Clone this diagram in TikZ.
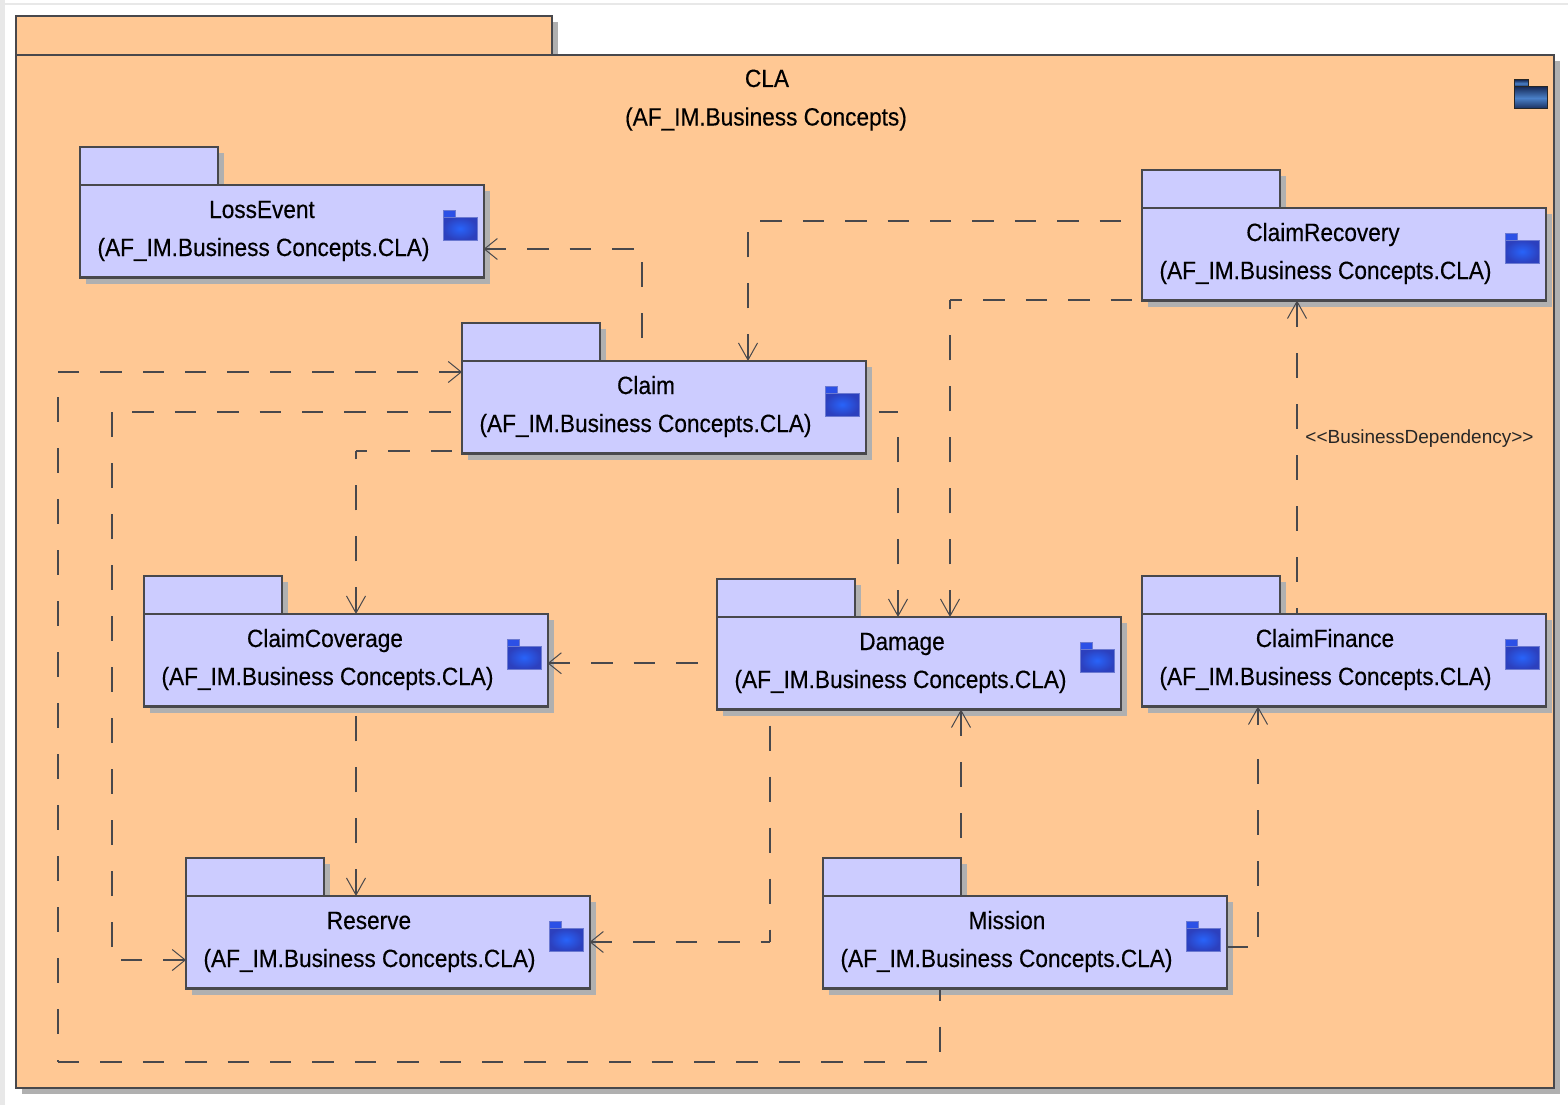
\documentclass[tikz,border=0pt]{standalone}
\usepackage{fontspec}
\setmainfont{Liberation Sans}[FakeStretch=0.905,FakeBold=0.35]
\newfontfamily\stereofont{Liberation Sans}[FakeStretch=1.0]
\usetikzlibrary{arrows.meta,shadows,calc}
\definecolor{claorange}{RGB}{255,200,148}
\definecolor{pkgblue}{RGB}{204,204,255}
\definecolor{edgegray}{RGB}{72,72,76}
\definecolor{shadegray}{RGB}{176,176,176}
\definecolor{stripgray}{RGB}{232,232,232}
\definecolor{iconin}{RGB}{40,100,250}
\definecolor{iconout}{RGB}{44,64,190}
\definecolor{icontab}{RGB}{44,80,230}
\definecolor{topdark}{RGB}{24,44,90}
\definecolor{topmid}{RGB}{74,128,200}
\tikzset{
  pkgshadow/.style={drop shadow={shadow xshift=6pt,shadow yshift=-6pt,fill=shadegray,opacity=1}},
  pkgbox/.style={rectangle,draw=edgegray,line width=2.2pt,fill=pkgblue,inner sep=0pt,outer sep=0pt,anchor=north west,pkgshadow},
  clabox/.style={pkgbox,fill=claorange},
  titletext/.style={inner sep=0pt,anchor=base,font=\fontsize{25}{25}\selectfont,text=black},
  stereotext/.style={inner sep=0pt,anchor=base,font=\stereofont\fontsize{19}{19}\selectfont,text=black!85},
  iconpart/.style={rectangle,inner sep=0pt,outer sep=0pt,anchor=north west,draw=iconout!70!white,line width=.6pt,inner color=iconin,outer color=iconout},
  icontabpart/.style={iconpart,inner color=icontab,outer color=icontab},
  topicon/.style={rectangle,inner sep=0pt,outer sep=0pt,anchor=north west,draw=black!85,line width=1pt,top color=topdark,bottom color=topdark,middle color=topmid},
  dep/.style={draw=edgegray,line width=2.1pt},
  hd/.style={dep,dash pattern=on 21.4pt off 21pt},
  vd/.style={dep,dash pattern=on 25pt off 26pt},
  harr/.style={{Straight Barb[length=13pt,width=21pt,line width=1pt]}-},
  varr/.style={{Straight Barb[length=17pt,width=19pt,line width=1pt]}-},
}
\newcommand{\pkgnode}[5]{%
  \node[pkgbox,minimum width=138pt,minimum height=38pt] (#1tab) at (#2,{#3-38}) {};
  \node[pkgbox,minimum width=403.6pt,minimum height=92.5pt] (#1) at (#2,#3) {};
  \node[titletext] (#1name) at ({#2+#5},{#3+33}) {#4};
  \node[titletext] (#1path) at ({#2+183.5},{#3+71}) {(AF\_IM.Business Concepts.CLA)};
  \node[iconpart,minimum width=34pt,minimum height=23pt] (#1iconbody) at ({#2+363},{#3+32}) {};
  \node[icontabpart,minimum width=12pt,minimum height=7pt] (#1icontab) at ({#2+363},{#3+25}) {};
}
\begin{document}
\begin{tikzpicture}[x=1pt,y=-1pt]
\useasboundingbox (0,0) rectangle (1568,1105);
\fill[white] (0,0) rectangle (1568,1105);
\fill[stripgray] (0,3) rectangle (1568,5);
\fill[stripgray] (0,0) rectangle (5,1105);
\fill[white] (5,5) rectangle (1568,1105);
% outer package
\node[clabox,minimum width=536pt,minimum height=39pt] (clatab) at (16,16) {};
\node[clabox,minimum width=1538pt,minimum height=1033pt] (cla) at (16,55) {};
\node[titletext] (claname) at (767,87) {CLA};
\node[titletext] (clapath) at (766,125.5) {(AF\_IM.Business Concepts)};
\node[topicon,minimum width=33pt,minimum height=22pt] (claiconbody) at (1514,87) {};
\node[topicon,minimum width=14pt,minimum height=7pt] (claicontab) at (1514,80) {};
% inner packages
\pkgnode{loss}{80}{185}{LossEvent}{182}
\pkgnode{recovery}{1142}{208}{ClaimRecovery}{181}
\pkgnode{claim}{462}{361}{Claim}{184}
\pkgnode{coverage}{144}{614}{ClaimCoverage}{181}
\pkgnode{damage}{717}{617}{Damage}{185}
\pkgnode{finance}{1142}{614}{ClaimFinance}{183}
\pkgnode{reserve}{186}{896}{Reserve}{183}
\pkgnode{mission}{823}{896}{Mission}{184}
% bends
\coordinate (b1) at (642,249);
\coordinate (b2) at (748,221);
\coordinate (b3) at (950,300);
\coordinate (b4) at (356,451);
\coordinate (b5a) at (112,412);
\coordinate (b5b) at (112,960);
\coordinate (b6a) at (58,372);
\coordinate (b6b) at (58,1062);
\coordinate (b6c) at (940,1062);
\coordinate (b8) at (770,942);
\coordinate (b9) at (961,0);
\coordinate (b10) at (1258,947);
\coordinate (b11) at (1297,0);
\coordinate (b12) at (898,412);
% Claim -> LossEvent
\draw[hd,harr] (loss.north east |- b1) -- (b1);
\draw[vd,dash phase=38pt] (b1) -- (b1 |- claim.north);
% ClaimRecovery -> Claim
\draw[hd,dash phase=30pt] (b2) -- (recovery.west |- b2);
\draw[vd,varr] (b2 |- claim.north) -- (b2);
% ClaimRecovery -> Damage
\draw[hd,dash phase=9pt] (b3) -- (recovery.west |- b3);
\draw[vd,varr] (b3 |- damage.north) -- (b3);
% Claim -> ClaimCoverage
\draw[hd,dash phase=10pt] (b4) -- (claim.west |- b4);
\draw[vd,varr] (b4 |- coverage.north) -- (b4);
% Claim -> Reserve
\draw[hd,dash phase=22pt] (b5a) -- (claim.west |- b5a);
\draw[vd] (b5a) -- (b5b);
\draw[hd,harr] (reserve.west |- b5b) -- (b5b);
% Mission -> Claim
\draw[vd,dash phase=13pt] (b6c |- mission.south) -- (b6c);
\draw[hd] (b6b) -- (b6c);
\draw[vd,dash phase=26pt] (b6a) -- (b6b);
\draw[hd,harr] (claim.west |- b6a) -- (b6a);
% Damage -> ClaimCoverage
\draw[hd,harr] (coverage.east |- damage.west) -- (damage.west);
% Damage -> Reserve
\draw[vd,dash phase=35pt] (b8 |- damage.south) -- (b8);
\draw[hd,harr] (reserve.east |- b8) -- (b8);
% Mission -> Damage
\draw[vd,varr] (b9 |- damage.south) -- (b9 |- missiontab.north);
% Mission -> ClaimFinance
\draw[hd] (mission.east |- b10) -- (b10);
\draw[dep,varr,dash pattern=on 17pt off 34pt on 25pt off 26pt on 25pt off 26pt on 25pt off 26pt on 25pt off 26pt] (b10 |- finance.south) -- (b10);
% ClaimFinance -> ClaimRecovery
\draw[vd,varr] (b11 |- recovery.south) -- (b11 |- finance.north);
\node[stereotext] (deplabel) at (1419.5,443.5) {<{}<BusinessDependency>{}>};
% Claim -> Damage
\draw[hd,dash phase=29.4pt] (claim.east |- b12) -- (b12);
\draw[vd,varr] (b12 |- damage.north) -- (b12);
% ClaimCoverage -> Reserve
\draw[vd,varr] (b4 |- reserve.north) -- (b4 |- coverage.south);
\end{tikzpicture}
\end{document}
